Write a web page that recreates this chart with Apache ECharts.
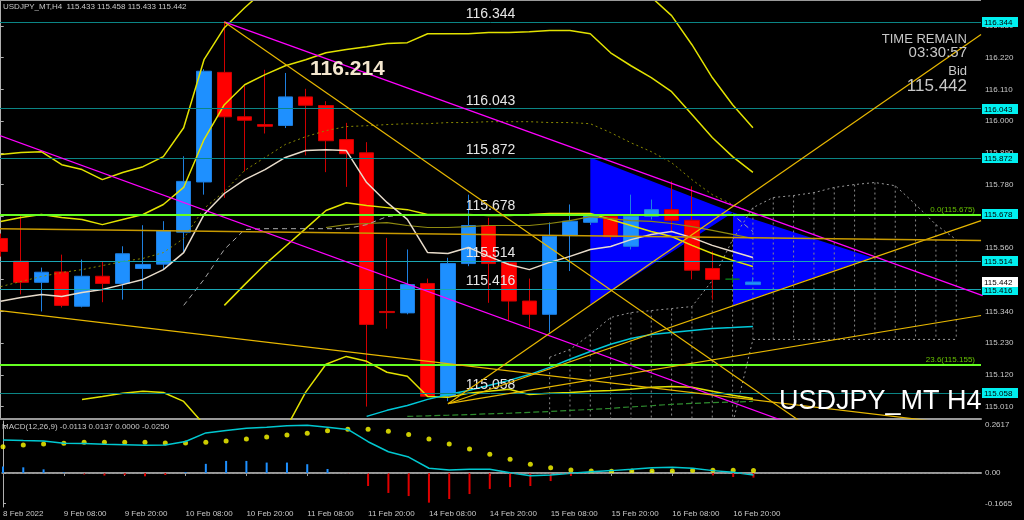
<!DOCTYPE html>
<html><head><meta charset="utf-8">
<script src="https://cdn.jsdelivr.net/npm/echarts@6/dist/echarts.min.js"></script>
<style>html,body{margin:0;padding:0;background:#000;}#c{width:1024px;height:520px;}</style>
</head><body><div id="c"></div>
<script>
// ---------- DATA ----------
const times = ['8 Feb 20:00','9 Feb 00:00','9 Feb 04:00','9 Feb 08:00','9 Feb 12:00','9 Feb 16:00','9 Feb 20:00',
 '10 Feb 00:00','10 Feb 04:00','10 Feb 08:00','10 Feb 12:00','10 Feb 16:00','10 Feb 20:00',
 '11 Feb 00:00','11 Feb 04:00','11 Feb 08:00','11 Feb 12:00','11 Feb 16:00','11 Feb 20:00',
 '14 Feb 00:00','14 Feb 04:00','14 Feb 08:00','14 Feb 12:00','14 Feb 16:00','14 Feb 20:00',
 '15 Feb 00:00','15 Feb 04:00','15 Feb 08:00','15 Feb 12:00','15 Feb 16:00','15 Feb 20:00',
 '16 Feb 00:00','16 Feb 04:00','16 Feb 08:00','16 Feb 12:00','16 Feb 16:00','16 Feb 20:00','17 Feb 00:00'];
const opens  = [115.593,115.514,115.441,115.477,115.358,115.462,115.437,115.489,115.504,115.615,115.789,116.169,116.015,115.988,115.985,116.084,116.054,115.936,115.890,115.340,115.335,115.437,115.046,115.506,115.638,115.509,115.376,115.330,115.603,115.649,115.670,115.566,115.670,115.693,115.656,115.489,115.452,115.433];
const highs  = [115.610,115.676,115.492,115.537,115.520,115.513,115.566,115.639,115.653,115.878,116.180,116.344,116.123,116.178,116.167,116.112,116.069,115.994,115.927,115.595,115.555,115.454,115.526,115.745,115.665,115.513,115.454,115.649,115.711,115.680,115.675,115.745,115.728,115.791,115.774,115.548,115.460,115.458];
const lows   = [115.530,115.399,115.340,115.354,115.354,115.372,115.381,115.416,115.485,115.544,115.745,115.734,115.826,115.957,115.976,115.881,115.823,115.772,115.010,115.280,115.330,115.045,115.029,115.497,115.370,115.310,115.284,115.266,115.480,115.640,115.589,115.555,115.659,115.618,115.451,115.381,115.440,115.433];
const closes = [115.548,115.441,115.476,115.361,115.462,115.437,115.540,115.503,115.620,115.791,116.173,116.015,116.003,115.982,116.084,116.055,115.932,115.887,115.295,115.336,115.433,115.046,115.506,115.638,115.506,115.376,115.330,115.601,115.653,115.673,115.599,115.670,115.693,115.656,115.483,115.451,115.452,115.442];

const dateTickIdx    = [0,3,6,9,12,15,18,21,24,27,30,33,36];
const dateTickLabels = ['8 Feb 2022','9 Feb 08:00','9 Feb 20:00','10 Feb 08:00','10 Feb 20:00','11 Feb 08:00','11 Feb 20:00','14 Feb 08:00','14 Feb 20:00','15 Feb 08:00','15 Feb 20:00','16 Feb 08:00','16 Feb 20:00'];
const priceTicks = [116.330,116.220,116.110,116.000,115.890,115.780,115.670,115.560,115.450,115.340,115.230,115.120,115.010];
const macdTicks  = [0.2617,0.0,-0.1665];

// indicator lines
const bandOuterUpper = [115.884,115.891,115.894,115.849,115.832,115.797,115.822,115.842,115.877,115.977,116.213,116.324,116.393,116.456,116.49,116.52,116.54,116.56,116.58,116.60,116.61,116.63,116.64,116.64,116.64,116.64,116.64,116.64,116.63,116.62,116.55,116.49,116.43,116.366,116.265,116.151,116.057,115.977];
const bandInnerUpper = [115.652,115.666,115.676,115.666,115.659,115.641,115.659,115.676,115.711,115.770,115.936,116.057,116.126,116.161,116.192,116.213,116.237,116.248,116.258,116.269,116.272,116.303,116.303,116.303,116.307,116.307,116.310,116.314,116.314,116.303,116.237,116.192,116.151,116.102,116.023,115.943,115.877,115.822];
const bandMiddle = [115.426,115.444,115.461,115.475,115.485,115.499,115.513,115.524,115.544,115.593,115.697,115.756,115.829,115.874,115.919,115.946,115.967,115.981,115.984,115.988,115.991,115.991,115.995,115.995,115.998,115.998,115.998,115.995,115.995,115.991,115.960,115.925,115.894,115.856,115.797,115.745,115.711,115.679];
const bandInnerLower = [null,null,null,null,null,null,null,null,null,null,null,115.361,115.433,115.503,115.565,115.627,115.690,115.717,115.707,115.700,115.693,115.676,115.676,115.676,115.673,115.673,115.676,115.680,115.680,115.680,115.659,115.638,115.617,115.600,115.569,115.541,115.517,115.496];
const bandOuterLower = [null,null,null,null,115.035,115.045,115.056,115.063,115.059,115.028,114.948,114.862,114.85,114.85,114.93,115.06,115.157,115.184,115.167,115.129,115.115,115.045,115.042,115.056,115.063,115.070,115.052,115.056,115.059,115.063,115.066,115.070,115.077,115.080,115.077,115.063,115.049,115.038];
const fastMA = [115.375,115.388,115.399,115.392,115.406,115.416,115.433,115.451,115.485,115.544,115.676,115.749,115.797,115.832,115.874,115.898,115.901,115.898,115.787,115.718,115.659,115.544,115.541,115.562,115.531,115.503,115.485,115.510,115.531,115.555,115.565,115.589,115.607,115.617,115.596,115.569,115.548,115.527];
const oliveMA = [null,null,null,null,null,null,null,null,null,null,null,null,null,null,null,null,115.631,115.641,115.645,115.648,115.638,115.631,115.631,115.634,115.638,115.638,115.638,115.645,115.655,115.669,115.662,115.655,115.652,115.645,115.634,115.621,115.607,115.593];
const kijun = [null,null,null,null,null,null,null,null,null,115.361,115.451,115.555,115.624,115.627,115.627,115.627,115.627,115.627,115.641,115.669,115.676,115.676,115.676,115.676,115.676,115.676,115.676,115.676,115.676,115.676,115.676,115.676,115.676,115.676,115.676,115.676,115.676,115.617];
const slowMA = [null,null,null,null,null,null,null,null,null,null,null,null,null,null,null,null,null,null,114.976,114.997,115.014,115.035,115.052,115.066,115.083,115.101,115.121,115.146,115.174,115.201,115.226,115.246,115.260,115.267,115.274,115.281,115.284,115.288];
const longMA = [null,null,null,null,null,null,null,null,null,null,null,null,null,null,null,null,null,null,null,null,114.976,114.978,114.980,114.982,114.985,114.987,114.990,114.993,114.997,115.000,115.004,115.009,115.013,115.018,115.021,115.024,115.026,115.028];
// Ichimoku cloud (bar index 27..47)
const cloudStart = 27;
const cloudTop    = [115.181,115.208,115.260,115.319,115.336,115.343,115.350,115.357,115.447,115.589,115.700,115.735,115.742,115.752,115.770,115.780,115.787,115.776,115.711,115.641,115.589];
const cloudBottom = [114.95,114.95,114.95,114.95,114.95,114.95,114.95,114.95,114.95,114.95,115.243,115.243,115.243,115.243,115.243,115.243,115.243,115.243,115.243,115.243,115.243];

const macdMain   = [0.180,0.177,0.175,0.162,0.161,0.157,0.155,0.151,0.153,0.172,0.219,0.232,0.245,0.250,0.258,0.261,0.250,0.238,0.171,0.116,0.087,0.026,0.016,0.020,0.020,0.002,-0.015,-0.011,-0.002,0.007,0.013,0.020,0.029,0.031,0.026,0.013,0.004,-0.0113];
const macdSignal = [0.144,0.153,0.158,0.162,0.168,0.168,0.168,0.168,0.164,0.164,0.168,0.175,0.186,0.197,0.208,0.217,0.231,0.239,0.239,0.228,0.211,0.186,0.158,0.131,0.102,0.075,0.048,0.029,0.016,0.011,0.009,0.011,0.011,0.011,0.013,0.015,0.015,0.0137];
const macdHist   = [0.036,0.031,0.020,0.003,-0.008,-0.014,-0.012,-0.018,-0.011,0.005,0.050,0.066,0.066,0.057,0.057,0.048,0.022,-0.002,-0.071,-0.109,-0.126,-0.162,-0.142,-0.115,-0.087,-0.077,-0.071,-0.044,-0.016,-0.003,0.003,0.010,0.012,0.010,0.002,-0.013,-0.022,-0.0250];

const levels = [116.344,116.043,115.872,115.678,115.514,115.416,115.058];
const levelColors = ['#0b8585','#0b8585','#0b8585','#0b8585','#1aa6b4','#1aa6b4','#0b8585'];
const fibLevels = [115.675,115.155];
const fibNames  = ['0.0','23.6'];
const bid = 115.442;

const magentaLines = [[[11,116.344],[48.3,115.395]], [[-0.04,115.950],[41,114.896]]];
const goldLines = [[[11,116.344],[39.3,114.96]], [[22,115.02],[48.22,116.30]], [[22,115.02],[48.22,115.655]], [[22,115.02],[48.22,115.326]], [[-0.04,115.343],[48.22,114.94]]];
const darkGoldLines = [[[-0.04,115.627],[48.22,115.586]]];
const triangles = [[[29,115.874],[29,115.364],[36.02,115.683]], [[36.02,115.683],[36.02,115.361],[42.86,115.527]]];

// ---------- CHART ----------
const X_MIN = -0.0344, X_MAX = 48.218;
const FONT = 'Liberation Sans';
const chart = echarts.init(document.getElementById('c'));
const pts = arr => arr.map((v,i)=> v==null ? null : [i,v]).filter(Boolean);
const lineSeries = (data, color, width, type, z) => ({type:'line', xAxisIndex:0, yAxisIndex:0, data, showSymbol:false, symbol:'none', silent:true, z: z||4, animation:false, lineStyle:{color, width, type: type||'solid'}});

const series = [];
series.push({type:'custom', xAxisIndex:0, yAxisIndex:0, z:1, silent:true, animation:false,
  data: triangles.map((t,k)=>[k]),
  renderItem: (params, api) => ({type:'polygon', shape:{points: triangles[params.dataIndex].map(p=>api.coord(p))}, style:{fill:'#0000ff'}})
});
// Ichimoku cloud hatch
series.push({type:'custom', xAxisIndex:0, yAxisIndex:0, z:1, silent:true, animation:false, clip:true,
  data: cloudTop.map((v,k)=>[cloudStart+k, v, cloudBottom[k]]),
  renderItem: (params, api) => {
    const a = api.coord([api.value(0), api.value(1)]), b = api.coord([api.value(0), api.value(2)]);
    return {type:'line', shape:{x1:a[0], y1:a[1], x2:b[0], y2:b[1]}, style:{stroke:'#8a8a8a', lineWidth:1, lineDash:[2,3]}};
  }
});
series.push(lineSeries(cloudTop.map((v,k)=>[cloudStart+k,v]), '#9a9a9a', 1, [2,3], 1));
series.push(lineSeries(cloudBottom.map((v,k)=>[cloudStart+k,v]), '#9a9a9a', 1, [2,3], 1));

series.push({type:'candlestick', xAxisIndex:0, yAxisIndex:0, z:2, animation:false, barWidth:15,
  encode:{x:0, y:[1,2,3,4]},
  data: times.map((t,i)=>[i, opens[i], closes[i], lows[i], highs[i]]),
  itemStyle:{color:'#1e90ff', color0:'#ff0000', borderColor:'#1e7fe0', borderColor0:'#d00000', borderColorDoji:'#0b7a1a', borderWidth:1}
});
// horizontal levels
series.push({type:'line', xAxisIndex:0, yAxisIndex:0, data:[], z:3, silent:true, animation:false,
  markLine:{symbol:'none', silent:true, animation:false, precision:3,
    lineStyle:{width:1, type:'solid'},
    label:{position:'insideMiddleTop', distance:1, color:'#e6e6e6', fontFamily:FONT, fontSize:14, formatter: p=>levels[p.dataIndex].toFixed(3)},
    data: levels.map((v,k)=>({yAxis:v, lineStyle:{color:levelColors[k]}}))}
});
// fib
series.push({type:'line', xAxisIndex:0, yAxisIndex:0, data:[], z:3, silent:true, animation:false,
  markLine:{symbol:'none', silent:true, animation:false, precision:3,
    lineStyle:{color:'#66ff22', width:2, type:'solid'},
    label:{position:'insideEndTop', distance:[6,1], color:'#66c000', fontFamily:FONT, fontSize:8, formatter: p=>fibNames[p.dataIndex]+'('+fibLevels[p.dataIndex].toFixed(3)+')'},
    data: fibLevels.map(v=>({yAxis:v}))}
});
// indicators
series.push(lineSeries(pts(bandOuterUpper), '#e2e200', 1.5));
series.push(lineSeries(pts(bandInnerUpper), '#e2e200', 1.5));
series.push(lineSeries(pts(bandInnerLower), '#e2e200', 1.5));
series.push(lineSeries(pts(bandOuterLower), '#e2e200', 1.5));
series.push(lineSeries(pts(bandMiddle), '#8a8a00', 1, [2,3]));
series.push(lineSeries(pts(oliveMA), '#8f8a10', 1.2));
series.push(lineSeries(pts(kijun), '#a8a8a8', 1, [5,4]));
series.push(lineSeries(pts(fastMA), '#e8dccb', 1.5));
series.push(lineSeries(pts(slowMA), '#00c8d8', 1.5));
series.push(lineSeries(pts(longMA), '#2e8b2e', 1.2, [6,3]));
magentaLines.forEach(l=>series.push(lineSeries(l, '#ff00ff', 1.2, 'solid', 5)));
goldLines.forEach(l=>series.push(lineSeries(l, '#e8b800', 1.2, 'solid', 5)));
darkGoldLines.forEach(l=>series.push(lineSeries(l, '#c89a00', 1.5, 'solid', 5)));
// right-axis boxes
const boxValues = levels.concat([bid]);
series.push({type:'custom', xAxisIndex:0, yAxisIndex:0, z:20, clip:false, silent:true, animation:false,
  data: boxValues.map(v=>[X_MAX, v]),
  renderItem: (params, api) => {
    const v = boxValues[params.dataIndex];
    const p = api.coord([X_MAX, v]);
    const isBid = v === bid;
    return {type:'group', children:[
      {type:'rect', shape:{x:p[0]+1, y:Math.round(p[1])-5, width:36, height:10}, style:{fill: isBid ? '#ffffff' : '#00f0f0'}},
      {type:'text', x:p[0]+3, y:Math.round(p[1])+0.5, style:{text:v.toFixed(3), fill:'#000000', font:'8px "Liberation Sans"', verticalAlign:'middle', textVerticalAlign:'middle'}}
    ]};
  }
});
// MACD
series.push({type:'bar', xAxisIndex:1, yAxisIndex:1, barWidth:2, animation:false, silent:true,
  data: macdHist.map((v,i)=>[i,v]),
  itemStyle:{color: p => p.value[1] >= 0 ? '#1e90ff' : '#e00000'},
  markLine:{symbol:'none', silent:true, animation:false, label:{show:false}, lineStyle:{color:'#8a8a8a', type:[2,2], width:1}, data:[{yAxis:0}]}
});
series.push({type:'line', xAxisIndex:1, yAxisIndex:1, data: macdMain.map((v,i)=>[i,v]), showSymbol:false, animation:false, silent:true, lineStyle:{color:'#00c8d0', width:1.5}});
series.push({type:'scatter', xAxisIndex:1, yAxisIndex:1, data: macdSignal.map((v,i)=>[i,v]), symbolSize:5, animation:false, silent:true, itemStyle:{color:'#ffff00'}});

const axisText = {color:'#c8c8c8', fontFamily:FONT, fontSize:8};
const option = {
  backgroundColor:'#000',
  animation:false,
  grid:[{left:0, right:43, top:0, height:419}, {left:0, right:43, top:421, height:86}],
  xAxis:[
    {type:'value', gridIndex:0, min:X_MIN, max:X_MAX, axisLabel:{show:false}, axisTick:{show:false}, splitLine:{show:false}, axisLine:{show:true, lineStyle:{color:'#9a9a9a', width:2}}},
    {type:'value', gridIndex:1, min:X_MIN, max:X_MAX, splitLine:{show:false},
     axisLine:{show:true, lineStyle:{color:'#9a9a9a', width:2}},
     axisTick:{show:true, customValues:dateTickIdx, length:3, lineStyle:{color:'#9a9a9a'}},
     axisLabel:Object.assign({customValues:dateTickIdx, align:'left', margin:3, formatter:v=>dateTickLabels[dateTickIdx.indexOf(Math.round(v))]}, axisText)}
  ],
  yAxis:[
    {type:'value', gridIndex:0, position:'right', min:114.967, max:116.420, splitLine:{show:false},
     axisLine:{show:true, lineStyle:{color:'#b0b0b0'}},
     axisTick:{show:true, customValues:priceTicks, length:3, lineStyle:{color:'#b0b0b0'}},
     axisLabel:Object.assign({customValues:priceTicks, margin:4, formatter:v=>v.toFixed(3)}, axisText)},
    {type:'value', gridIndex:1, position:'right', min:-0.1858, max:0.2842, splitLine:{show:false},
     axisLine:{show:true, lineStyle:{color:'#b0b0b0'}},
     axisTick:{show:true, customValues:macdTicks, length:3, lineStyle:{color:'#b0b0b0'}},
     axisLabel:Object.assign({customValues:macdTicks, margin:4, formatter:v=> v===0 ? '0.00' : v.toFixed(4)}, axisText)}
  ],
  graphic:[
    {type:'line', shape:{x1:0,y1:0.5,x2:981,y2:0.5}, style:{stroke:'#9a9a9a', lineWidth:1}, z:50},
    {type:'text', left:3, top:3, style:{text:'USDJPY_MT,H4  115.433 115.458 115.433 115.442', fill:'#c8c8c8', font:'8px "Liberation Sans"'}, z:50},
    {type:'text', left:2, top:423, style:{text:'MACD(12,26,9) -0.0113 0.0137 0.0000 -0.0250', fill:'#c8c8c8', font:'8px "Liberation Sans"'}, z:50},
    {type:'text', right:57, top:33, style:{text:'TIME REMAIN', fill:'#c8c8c8', font:'13px "Liberation Sans"', align:'right'}, z:50},
    {type:'text', right:57, top:45, style:{text:'03:30:57', fill:'#c8c8c8', font:'15px "Liberation Sans"', align:'right'}, z:50},
    {type:'text', right:57, top:65, style:{text:'Bid', fill:'#c8c8c8', font:'13px "Liberation Sans"', align:'right'}, z:50},
    {type:'text', right:57, top:78, style:{text:'115.442', fill:'#c8c8c8', font:'17px "Liberation Sans"', align:'right'}, z:50},
    {type:'text', left:310, top:59, style:{text:'116.214', fill:'#f4e7cf', font:'bold 21px "Liberation Sans"'}, z:50},
    {type:'text', left:779, top:388, style:{text:'USDJPY_MT H4', fill:'#ffffff', font:'27px "Liberation Sans"'}, z:50}
  ],
  series
};
chart.setOption(option);
</script>
</body></html>
